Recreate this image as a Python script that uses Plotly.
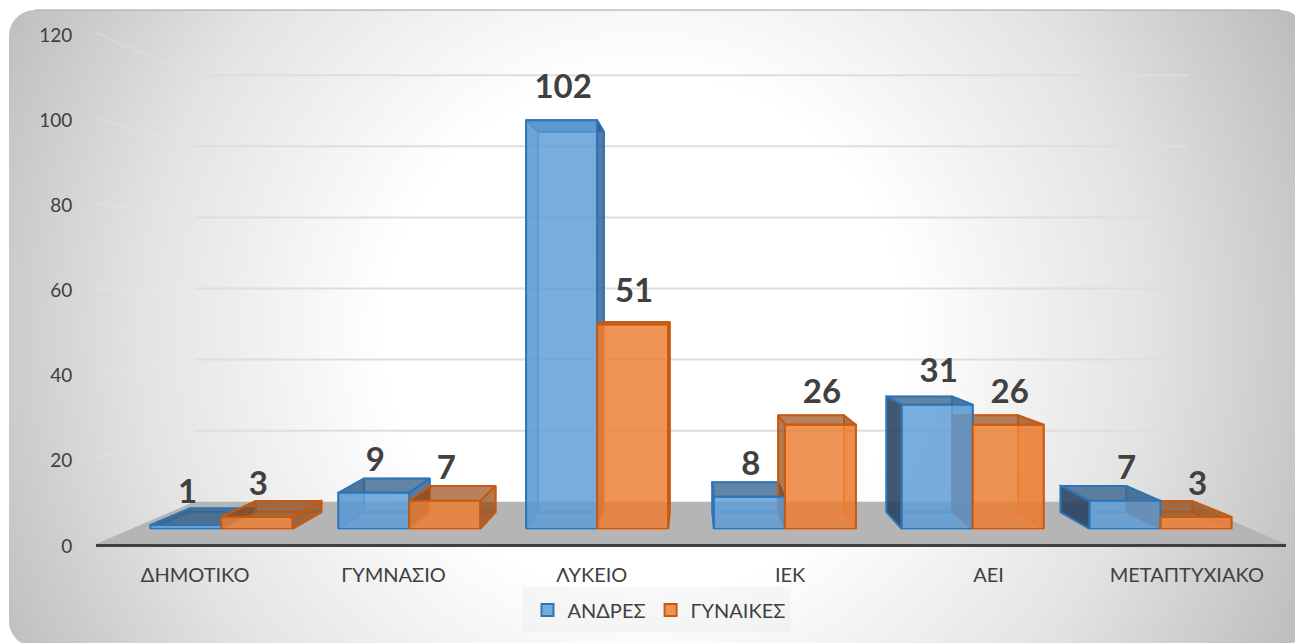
import numpy as np
import plotly.graph_objects as go

categories = ["ΔΗΜΟΤΙΚΟ", "ΓΥΜΝΑΣΙΟ", "ΛΥΚΕΙΟ", "ΙΕΚ", "ΑΕΙ", "ΜΕΤΑΠΤΥΧΙΑΚΟ"]
men = [1, 9, 102, 8, 31, 7]
women = [3, 7, 51, 26, 26, 3]
series_names = ["ΑΝΔΡΕΣ", "ΓΥΝΑΙΚΕΣ"]
y_ticks = [0, 20, 40, 60, 80, 100, 120]

W, H = 1295, 643
PX_L, PX_R, PX_T, PX_B = 96, 1286, 33, 544
CV, VV = 2.5, 60.0
S_BACK = 0.835
S_FRONT, S_REAR = 0.941, 0.875      # depth scale of the bars' front and rear planes (vertical)
SX_FRONT, SX_REAR = 0.947, 0.878    # the same planes (horizontal)
BAR_W = 0.378
FONT = "Lato, 'Open Sans', sans-serif"
TEXT = "#404040"


def proj(c, v, s, sx=None):
    return CV + (s if sx is None else sx) * (c - CV), VV + s * (v - VV)


def x_px(c):
    return PX_L + (c + 0.5) / 6 * (PX_R - PX_L)


def y_px(v):
    return PX_B - v / 120 * (PX_B - PX_T)


fig = go.Figure()

# background card on a page-wide hidden axis pair: rounded rectangle, circular gradient
R = 26
L, T, Rt, B = 9, 10, 1306, 647
theta = np.linspace(0, np.pi / 2, 10)
bx, by = [], []
for cx, cy, a0 in [(L + R, T + R, np.pi), (Rt - R, T + R, 1.5 * np.pi),
                   (Rt - R, B - R, 0), (L + R, B - R, 0.5 * np.pi)]:
    bx += list(cx + R * np.cos(a0 + theta))
    by += list(cy + R * np.sin(a0 + theta))
bx.append(bx[0])
by.append(by[0])
# zero-area strokes widen the fill's box so that the gradient is a true circle
RAD = 720
CX, CY = 645, 335
bx += [None, CX - RAD, CX - RAD, None, CX + RAD, CX + RAD]
by += [None, CY - RAD, CY - RAD, None, CY + RAD, CY + RAD]
fig.add_trace(go.Scatter(
    x=bx, y=by, xaxis="x", yaxis="y",
    mode="none", fill="toself", showlegend=False, hoverinfo="skip",
    fillgradient=dict(type="radial", colorscale=[[0, "#ffffff"], [0.36, "#ffffff"], [0.7, "#e3e3e3"], [1, "#bdbdbd"]]),
))
# top edge of card
fig.add_trace(go.Scatter(
    x=[L + R, Rt - R], y=[T, T], xaxis="x", yaxis="y", mode="lines",
    line=dict(color="rgba(170,170,170,0.55)", width=2), showlegend=False, hoverinfo="skip"))
# legend panel
fig.add_trace(go.Scatter(
    x=[523, 791, 791, 523, 523], y=[587, 587, 632, 632, 587], xaxis="x", yaxis="y", mode="lines", fill="toself",
    fillcolor="rgba(225,225,225,0.22)", line=dict(width=0, color="rgba(0,0,0,0)"), showlegend=False, hoverinfo="skip"))

# floor
corners = [proj(-0.5, 0, 1), proj(5.5, 0, 1), proj(5.5, 0, S_BACK), proj(-0.5, 0, S_BACK), proj(-0.5, 0, 1)]
fig.add_trace(go.Scatter(x=[p[0] for p in corners], y=[p[1] for p in corners], xaxis="x2", yaxis="y2",
                         mode="lines", fill="toself",
                         fillcolor="#b5b5b5", line=dict(width=0, color="#b5b5b5"),
                         showlegend=False, hoverinfo="skip"))

# gridlines on the back wall, and faint ones on the left wall
gx, gy, dx, dy = [], [], [], []
for v in y_ticks[1:]:
    a, b, c = proj(-0.5, v, 1), proj(-0.5, v, S_BACK), proj(5.5, v, S_BACK)
    gx += [b[0], c[0], None]
    gy += [b[1], c[1], None]
    dx += [a[0], b[0], None]
    dy += [a[1], b[1], None]
fig.add_trace(go.Scatter(x=dx, y=dy, xaxis="x2", yaxis="y2", mode="lines",
                         line=dict(color="rgba(236,236,236,0.35)", width=1.5),
                         showlegend=False, hoverinfo="skip"))
fig.add_trace(go.Scatter(x=gx, y=gy, xaxis="x2", yaxis="y2", mode="lines", line=dict(color="#dedede", width=2),
                         showlegend=False, hoverinfo="skip"))


def poly(xs, ys, pts):
    xs += [p[0] for p in pts] + [pts[0][0], None]
    ys += [p[1] for p in pts] + [pts[0][1], None]


def faces(values, offset):
    out = {k: ([], []) for k in ["back", "floor", "inner", "outer_l", "outer_r", "top"]}
    for i, v in enumerate(values):
        a, b = i + offset, i + offset + BAR_W
        f = lambda c, h: proj(c, h, S_FRONT, SX_FRONT)
        r = lambda c, h: proj(c, h, S_REAR, SX_REAR)
        poly(*out["back"], [r(a, 0), r(b, 0), r(b, v), r(a, v)])
        poly(*out["floor"], [f(a, 0), f(b, 0), r(b, 0), r(a, 0)])
        left = [f(a, 0), f(a, v), r(a, v), r(a, 0)]
        right = [f(b, 0), f(b, v), r(b, v), r(b, 0)]
        if (a + b) / 2 < CV - 0.01 and b < CV:
            poly(*out["inner"], left)
            poly(*out["outer_r"], right)
        else:
            poly(*out["inner"], right)
            poly(*out["outer_l"], left)
        poly(*out["top"], [f(a, v), f(b, v), r(b, v), r(a, v)])
    return out


styles = [
    dict(line="#2e75b6", thin="#5b9bd5", top="rgba(38,86,130,0.72)", outer_r="rgba(38,86,140,0.78)",
         outer_l="rgba(40,65,95,0.88)", inner="rgba(46,105,165,0.30)"),
    dict(line="#c55a11", thin="#ed7d31", top="rgba(150,70,15,0.68)", outer_r="rgba(150,70,15,0.72)",
         outer_l="rgba(150,70,15,0.72)", inner="rgba(190,90,25,0.28)"),
]

for values, offset, st in zip([men, women], [-BAR_W, 0.0], styles):
    fc = faces(values, offset)
    for key, fill, col, wd in [
        ("floor", "rgba(0,0,0,0)", st["thin"], 1.5),
        ("back", "rgba(0,0,0,0)", st["thin"], 1.5),
        ("inner", st["inner"], st["thin"], 1.5),
        ("outer_r", st["outer_r"], st["line"], 2),
        ("outer_l", st["outer_l"], st["line"], 2),
        ("top", st["top"], st["line"], 2),
    ]:
        xs, ys = fc[key]
        if xs:
            fig.add_trace(go.Scatter(x=xs, y=ys, xaxis="x2", yaxis="y2", mode="lines", fill="toself", fillcolor=fill,
                                     line=dict(color=col, width=wd), showlegend=False, hoverinfo="skip"))

# front faces: real bars on an axis pair that covers the bars' front plane
idx = list(range(len(categories)))
fig.add_trace(go.Bar(x=idx, y=men, name=series_names[0], xaxis="x3", yaxis="y3",
                     marker=dict(color="rgba(91,155,213,0.82)", line=dict(color="#2e75b6", width=2)), hoverinfo="skip"))
fig.add_trace(go.Bar(x=idx, y=women, name=series_names[1], xaxis="x3", yaxis="y3",
                     marker=dict(color="rgba(237,125,49,0.82)", line=dict(color="#c55a11", width=2)), hoverinfo="skip"))

# data labels
LABEL_UP = 7.6
for values, shift in [(men, -BAR_W / 2), (women, BAR_W / 2)]:
    fig.add_trace(go.Scatter(x=[i + shift + 0.008 for i in idx], y=[v + LABEL_UP for v in values],
                             xaxis="x3", yaxis="y3", mode="text", text=[str(v) for v in values],
                             textposition="middle center", cliponaxis=False,
                             textfont=dict(family=FONT, size=33, color=TEXT, weight="bold"),
                             showlegend=False, hoverinfo="skip"))

fx0, fy0 = proj(-0.5, 0, S_FRONT, SX_FRONT)
fx1, fy1 = proj(5.5, 120, S_FRONT, SX_FRONT)
fig.update_layout(
    width=W, height=H, margin=dict(l=0, r=0, t=0, b=0, autoexpand=False),
    paper_bgcolor="white", plot_bgcolor="rgba(0,0,0,0)",
    barmode="group", bargap=1 - 2 * BAR_W, bargroupgap=0,
    showlegend=True,
    font=dict(family=FONT, color=TEXT),
    legend=dict(orientation="h", x=659 / W, xanchor="center", y=1 - 610 / H, yanchor="middle",
                bgcolor="rgba(0,0,0,0)", font=dict(size=20, color=TEXT, family=FONT), traceorder="normal"),
    xaxis=dict(domain=[0, 1], range=[0, W], visible=False, fixedrange=True),
    yaxis=dict(domain=[0, 1], range=[H, 0], visible=False, fixedrange=True),
    xaxis2=dict(domain=[PX_L / W, PX_R / W], range=[-0.5, 5.5], anchor="y2", tickmode="array", tickvals=idx, ticktext=categories,
                showgrid=False, zeroline=False, showline=True, linecolor="#404040", linewidth=3,
                ticks="outside", ticklen=11, tickcolor="rgba(0,0,0,0)", tickfont=dict(size=20, color=TEXT), fixedrange=True),
    yaxis2=dict(domain=[1 - PX_B / H, 1 - PX_T / H], range=[0, 120], anchor="x2", tickmode="array", tickvals=y_ticks,
                showgrid=False, zeroline=False, showline=False, ticklabelshift=2,
                ticks="outside", ticklen=19, tickcolor="rgba(0,0,0,0)", tickfont=dict(size=19, color=TEXT), fixedrange=True),
    xaxis3=dict(domain=[x_px(fx0) / W, x_px(fx1) / W], range=[-0.5, 5.5], anchor="y3", visible=False, fixedrange=True),
    yaxis3=dict(domain=[1 - y_px(fy0) / H, 1 - y_px(fy1) / H], range=[0, 120], anchor="x3", visible=False, fixedrange=True),
)
fig.write_html("out.html", config={"displayModeBar": False},
               post_script="document.body.style.margin='0';document.body.style.overflow='hidden';")
